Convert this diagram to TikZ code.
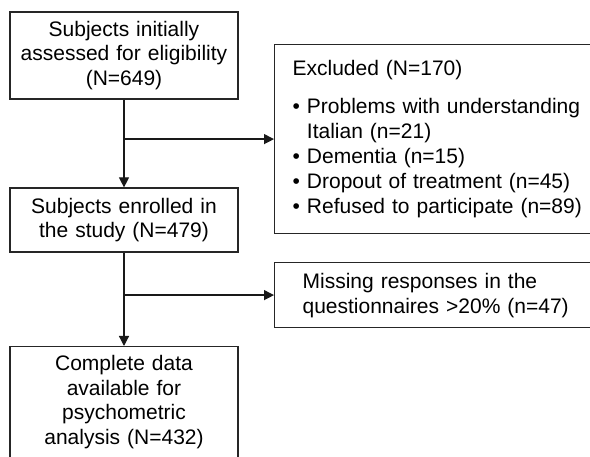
\documentclass[tikz,border=0pt]{standalone}
\usepackage{fontspec}
\setmainfont{Liberation Sans}
\usetikzlibrary{positioning, arrows.meta, calc}

\begin{document}
\begin{tikzpicture}[x=1pt, y=-1pt,
		box_style/.style={draw=black!85, line width=1.2pt, rectangle, align=center, text width=222pt, minimum width=228pt, inner xsep=3pt, font=\fontsize{21}{24.5}\selectfont},
		side_box/.style={draw=black!85, line width=1.2pt, rectangle, align=left, minimum width=330pt, font=\fontsize{21}{25}\selectfont},
		arrow/.style={-{Triangle[length=10pt, width=10pt]}, line width=1.2pt, black!90}
		]
		\useasboundingbox (0,0) rectangle (590,457);
		\clip (0,0) rectangle (590,457);
		
		% main column
		\node[box_style, minimum height=87pt] (assessed) at (124, 55.5) {Subjects initially\\assessed for eligibility\\(N=649)};
		\node[box_style, minimum height=64pt] (enrolled) at (124, 220) {Subjects enrolled in\\the study (N=479)};
		\node[box_style, anchor=north, inner ysep=9pt] (complete) at (124, 346) {Complete data\\available for\\psychometric\\analysis (N=432)};
		
		% exclusions
		\node[side_box, anchor=north west, minimum height=189pt, inner xsep=18pt, text width=294pt] (excluded) at (274, 44) {Excluded (N=170)\\[13pt]
			• Problems with understanding\\
			\hphantom{• }Italian (n=21)\\
			• Dementia (n=15)\\
			• Dropout of treatment (n=45)\\
			• Refused to participate (n=89)};
		\node[side_box, anchor=north west, minimum height=65pt, inner xsep=28pt, text width=274pt] (missing) at (274, 262) {Missing responses in the\\questionnaires >20\% (n=47)};
		
		\draw[arrow] (assessed) -- (enrolled);
		\draw[arrow] (assessed.south |- excluded.west) -- (excluded.west);
		\draw[arrow] (enrolled) -- (complete);
		\draw[arrow] (enrolled.south |- missing.west) -- (missing.west);
	\end{tikzpicture}
\end{document}
